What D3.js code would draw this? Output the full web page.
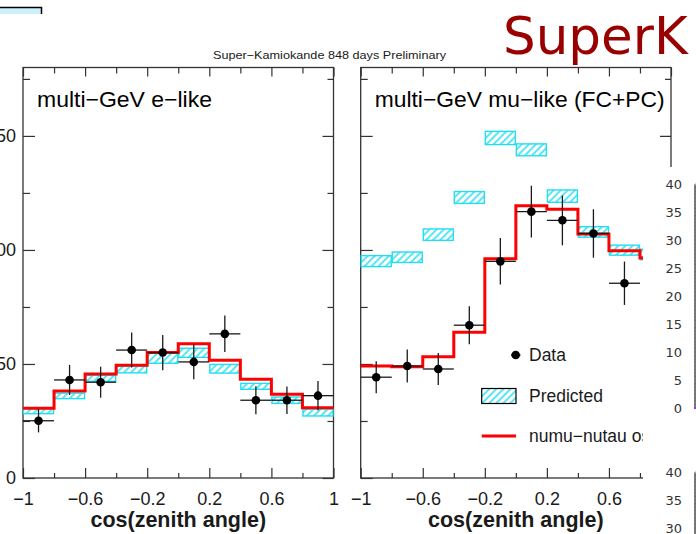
<!DOCTYPE html>
<html><head><meta charset="utf-8">
<script src="https://cdn.jsdelivr.net/npm/d3@7"></script>
<style>
html,body{margin:0;padding:0;background:#fff;overflow:hidden}
svg{display:block}
</style></head><body>
<svg id="chart" width="696" height="534"></svg>
<script>
// ---------- data ----------
const binEdges = [-1, -0.8, -0.6, -0.4, -0.2, 0, 0.2, 0.4, 0.6, 0.8, 1];
const xMajorTicks = [-1, -0.6, -0.2, 0.2, 0.6, 1];
const xMinorTicks = [-0.8, -0.4, 0, 0.4, 0.8];
const yMajorTicks = [0, 50, 100, 150];
const yMinorTicks = [25, 75, 125, 175];

// multi-GeV e-like
const eLikeData    = [25.1, 43.0, 42.0, 56.1, 55.0, 50.9, 63.2, 34.1, 34.1, 36.1];
const eLikeDataErr = [5.1, 6.6, 6.8, 7.7, 7.7, 7.6, 8.0, 6.1, 6.0, 6.4];
const eLikePred    = [29.3, 36.0, 43.7, 47.6, 52.5, 54.9, 47.9, 40.2, 34.1, 28.7];
const eLikePredErr = [1.1, 1.2, 1.3, 1.5, 2.2, 2.0, 1.9, 1.3, 1.4, 1.5];
const eLikeOsc     = [30.6, 38.2, 45.6, 49.4, 55.0, 58.9, 51.6, 43.3, 36.7, 30.8];

// multi-GeV mu-like (FC+PC)
const muLikeData    = [44.2, 49.1, 47.8, 67.0, 95.0, 116.8, 113.0, 107.2, 85.4, null];
const muLikeDataErr = [7.0, 7.2, 7.0, 8.3, 10.2, 11.3, 10.9, 10.6, 9.5, null];
const muLikePred    = [95.1, 96.8, 106.7, 123.0, 149.1, 143.9, 123.6, 107.9, 99.9, 98.0];
const muLikePredErr = [2.4, 2.3, 2.5, 2.6, 2.9, 2.6, 2.7, 2.3, 2.2, 2.3];
const muLikeOsc     = [49.1, 48.8, 53.2, 63.9, 96.1, 119.4, 117.8, 107.0, 99.6, 96.5];

const legendLabels = ["Data", "Predicted", "numu\u2212nutau osc."];
const insetTicks = [0, 5, 10, 15, 20, 25, 30, 35, 40];

// ---------- styles ----------
const CYAN = "#22def0", RED = "#ff0000", INK = "#1a1a1a", FRAME = "#333";
const FONT = "'Liberation Sans', Arial, Helvetica, sans-serif";

const svg = d3.select("#chart");
const defs = svg.append("defs");
const pat = defs.append("pattern").attr("id", "hatch")
  .attr("patternUnits", "userSpaceOnUse").attr("width", 5).attr("height", 5)
  .attr("patternTransform", "rotate(45)");
pat.append("rect").attr("width", 5).attr("height", 5).attr("fill", "#fff");
pat.append("line").attr("x1", 1).attr("y1", 0).attr("x2", 1).attr("y2", 5)
  .attr("stroke", CYAN).attr("stroke-width", 1.5);
// visible area of the right panel (the slide's inset covers the rest)
defs.append("clipPath").attr("id", "rightClip").append("path")
  .attr("d", "M330,0H643V167H643V534H330Z M643,0H696V167H643Z");

// top-left leftover box
svg.append("rect").attr("x", -2).attr("y", 7.5).attr("width", 43.5).attr("height", 6.5)
  .attr("fill", "#cdf1fa");
svg.append("path").attr("d", "M0,7.5H41.5V14").attr("fill", "none").attr("stroke", "#000").attr("stroke-width", 1.5);

// header
svg.append("text").attr("x", 213).attr("y", 58.5)
  .attr("font-family", FONT).attr("font-size", 11.5).attr("fill", INK)
  .attr("textLength", 233).attr("lengthAdjust", "spacingAndGlyphs")
  .text("Super\u2212Kamiokande 848 days Preliminary");
svg.append("text").attr("x", 503).attr("y", 53.5)
  .attr("font-family", "'DejaVu Sans', Verdana, sans-serif").attr("font-size", 51.5)
  .attr("fill", "#990000").text("SuperK");

const yTop = 67.5, yBot = 478;
const y = d3.scaleLinear().domain([0, 180]).range([yBot, yTop]);
const fmt = d3.format("");

function drawPanel(x0, x1, title, titleLen, dataV, dataE, predV, predE, oscV, showYLabels, maxLabel, clip) {
  const x = d3.scaleLinear().domain([-1, 1]).range([x0, x1]);
  const g = svg.append("g");
  if (clip) g.attr("clip-path", `url(#${clip})`);

  function styleAxis(sel) {
    sel.select(".domain").remove();
    sel.attr("color", FRAME).attr("font-family", FONT);
    sel.selectAll("line").attr("stroke-width", 1.2);
    sel.selectAll("text").attr("fill", INK).attr("font-size", 18);
  }
  g.append("g").attr("transform", `translate(0,${yBot})`)
    .call(d3.axisBottom(x).tickValues(xMajorTicks.filter(v => v <= maxLabel)).tickSizeInner(-10).tickSizeOuter(0).tickPadding(14).tickFormat(fmt)).call(styleAxis);
  g.append("g").attr("transform", `translate(0,${yBot})`)
    .call(d3.axisBottom(x).tickValues(xMinorTicks).tickSizeInner(-5).tickSizeOuter(0).tickFormat("")).call(styleAxis);
  g.append("g").attr("transform", `translate(0,${yTop})`)
    .call(d3.axisTop(x).tickValues(xMajorTicks).tickSizeInner(-9).tickSizeOuter(0).tickFormat("")).call(styleAxis);
  g.append("g").attr("transform", `translate(0,${yTop})`)
    .call(d3.axisTop(x).tickValues(xMinorTicks).tickSizeInner(-6).tickSizeOuter(0).tickFormat("")).call(styleAxis);
  g.append("g").attr("transform", `translate(${x0},0)`)
    .call(d3.axisLeft(y).tickValues(yMajorTicks).tickSizeInner(-12).tickSizeOuter(0).tickPadding(7)
      .tickFormat(showYLabels ? fmt : "")).call(styleAxis);
  g.append("g").attr("transform", `translate(${x0},0)`)
    .call(d3.axisLeft(y).tickValues(yMinorTicks).tickSizeInner(-7).tickSizeOuter(0).tickFormat("")).call(styleAxis);
  g.append("g").attr("transform", `translate(${x1},0)`)
    .call(d3.axisRight(y).tickValues(yMajorTicks).tickSizeInner(-11).tickSizeOuter(0).tickFormat("")).call(styleAxis);
  g.append("g").attr("transform", `translate(${x1},0)`)
    .call(d3.axisRight(y).tickValues(yMinorTicks).tickSizeInner(-6).tickSizeOuter(0).tickFormat("")).call(styleAxis);

  g.append("rect").attr("x", x0).attr("y", yTop).attr("width", x1 - x0).attr("height", yBot - yTop)
    .attr("fill", "none").attr("stroke", FRAME).attr("stroke-width", 1.3);

  const bins = d3.range(predV.length).map(i => ({ lo: binEdges[i], hi: binEdges[i + 1] }));

  g.selectAll(".pred").data(bins).join("rect").attr("class", "pred")
    .attr("x", (d) => x(d.lo) + 0.5)
    .attr("width", (d) => x(d.hi) - x(d.lo) - 1)
    .attr("y", (d, i) => y(predV[i] + predE[i]))
    .attr("height", (d, i) => y(predV[i] - predE[i]) - y(predV[i] + predE[i]))
    .attr("fill", "url(#hatch)").attr("stroke", CYAN).attr("stroke-width", 1.4);

  const pts = bins.map((d, i) => [d.lo, oscV[i]]);
  pts.push([binEdges[bins.length], oscV[oscV.length - 1]]);
  g.append("path").datum(pts)
    .attr("d", d3.line().x(d => x(d[0])).y(d => y(d[1])).curve(d3.curveStepAfter))
    .attr("fill", "none").attr("stroke", RED).attr("stroke-width", 3);

  const dp = bins.map((d, i) => ({ lo: d.lo, hi: d.hi, c: (d.lo + d.hi) / 2, v: dataV[i], e: dataE[i] }))
    .filter(d => d.v != null);
  const pg = g.selectAll(".pt").data(dp).join("g").attr("class", "pt");
  pg.append("line").attr("x1", d => x(d.lo)).attr("x2", d => x(d.hi))
    .attr("y1", d => y(d.v)).attr("y2", d => y(d.v)).attr("stroke", INK).attr("stroke-width", 1.3);
  pg.append("line").attr("x1", d => x(d.c)).attr("x2", d => x(d.c))
    .attr("y1", d => y(d.v + d.e)).attr("y2", d => y(d.v - d.e)).attr("stroke", INK).attr("stroke-width", 1.3);
  pg.append("circle").attr("cx", d => x(d.c)).attr("cy", d => y(d.v)).attr("r", 4.3).attr("fill", "#000");

  g.append("text").attr("x", x0 + 14).attr("y", 107)
    .attr("font-family", FONT).attr("font-size", 22).attr("fill", "#000")
    .attr("textLength", titleLen).attr("lengthAdjust", "spacingAndGlyphs").text(title);
  g.append("text").attr("x", (x0 + x1) / 2).attr("y", 527).attr("text-anchor", "middle")
    .attr("font-family", FONT).attr("font-size", 21.5).attr("font-weight", "bold").attr("fill", INK)
    .text("cos(zenith angle)");
  return g;
}

drawPanel(23, 333.5, "multi\u2212GeV e\u2212like", 175, eLikeData, eLikeDataErr, eLikePred, eLikePredErr, eLikeOsc, true, 1, null);
const right = drawPanel(360.7, 671, "multi\u2212GeV mu\u2212like (FC+PC)", 290, muLikeData, muLikeDataErr, muLikePred, muLikePredErr, muLikeOsc, false, 0.6, "rightClip");

// legend (inside the right panel, clipped by the inset)
const lg = right.append("g").attr("font-family", FONT).attr("font-size", 17.5).attr("fill", INK);
lg.append("circle").attr("cx", 515.7).attr("cy", 355).attr("r", 4.3).attr("fill", "#000");
lg.append("line").attr("x1", 511).attr("x2", 520.5).attr("y1", 355).attr("y2", 355).attr("stroke", "#000").attr("stroke-width", 1.3);
lg.append("text").attr("x", 529).attr("y", 361).text(legendLabels[0]);
lg.append("rect").attr("x", 481.7).attr("y", 388.5).attr("width", 34.3).attr("height", 15)
  .attr("fill", "url(#hatch)").attr("stroke", "#000").attr("stroke-width", 1.2);
lg.append("text").attr("x", 529).attr("y", 402).text(legendLabels[1]);
lg.append("line").attr("x1", 481.7).attr("x2", 516).attr("y1", 436).attr("y2", 436).attr("stroke", RED).attr("stroke-width", 3);
lg.append("text").attr("x", 529).attr("y", 442).text(legendLabels[2]);

// overlapping inset (from the slide) on the right
function inset(yFor40) {
  const yi = d3.scaleLinear().domain([0, 40]).range([yFor40 + 224, yFor40]);
  const ax = svg.append("g").attr("transform", "translate(694.5,0)")
    .call(d3.axisLeft(yi).tickValues(insetTicks).tickSize(0).tickPadding(12.5));
  ax.attr("font-family", "'DejaVu Sans', Verdana, sans-serif").attr("font-size", 13).attr("color", "#222");
  ax.select(".domain").attr("stroke-width", 1.2);
  ax.selectAll("text").attr("fill", "#333");
  const minor = svg.append("g").attr("transform", "translate(694.5,0)");
  minor.selectAll("line").data(d3.range(0, 40.01, 0.625)).join("line")
    .attr("x1", 0.8).attr("x2", 2.5).attr("y1", d => yi(d)).attr("y2", d => yi(d))
    .attr("stroke", "#555").attr("stroke-width", 0.8);
  return yi;
}
const yi1 = inset(184);
svg.append("line").attr("x1", 694).attr("x2", 697).attr("y1", yi1(0)).attr("y2", yi1(0))
  .attr("stroke", "#9040d0").attr("stroke-width", 2);
inset(472);
</script>
</body></html>
